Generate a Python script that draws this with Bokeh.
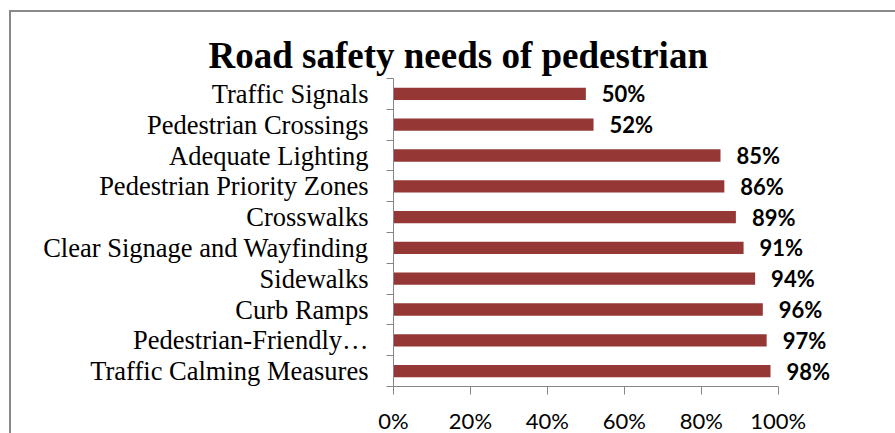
from bokeh.plotting import figure
from bokeh.models import Range1d, FixedTicker, NumeralTickFormatter, ColumnDataSource
from bokeh.core.properties import value
from bokeh.embed import file_html
from bokeh.resources import INLINE

# ---- data (top to bottom as in the chart) ----
categories = [
    "Traffic Signals",
    "Pedestrian Crossings",
    "Adequate Lighting",
    "Pedestrian Priority Zones",
    "Crosswalks",
    "Clear Signage and Wayfinding",
    "Sidewalks",
    "Curb Ramps",
    "Pedestrian-Friendly\u2026",
    "Traffic Calming Measures",
]
values = [0.50, 0.52, 0.85, 0.86, 0.89, 0.91, 0.94, 0.96, 0.97, 0.98]
value_labels = ["50%", "52%", "85%", "86%", "89%", "91%", "94%", "96%", "97%", "98%"]
x_ticks = [0.0, 0.2, 0.4, 0.6, 0.8, 1.0]
title_text = "Road safety needs of pedestrian"

n = len(categories)
ypos = [n - 1 - i for i in range(n)]          # top category highest
src = ColumnDataSource(dict(y=ypos, v=values, lbl=value_labels, cat=categories))

AXIS_GREY = "#868686"
BAR = "#953735"

FRAME_W = 492
FRAME_H = 308
PX_PER_UNIT = 384.7
x_end = FRAME_W / PX_PER_UNIT

p = figure(
    frame_width=FRAME_W, frame_height=FRAME_H,
    x_range=Range1d(0, x_end), y_range=Range1d(-0.5, n - 0.5),
    output_backend="svg", toolbar_location=None,
    min_border_left=382, min_border_right=10,
    min_border_top=66, min_border_bottom=47,
    title=title_text,
)
p.styles = {
    "border-top": "2px solid #898989",
    "border-left": "2px solid #898989",
    "margin-left": "9px",
    "margin-top": "10px",
}
p.background_fill_color = "white"
p.border_fill_color = "white"
p.outline_line_color = None
p.xgrid.visible = False
p.ygrid.visible = False

p.title.text_font = "Liberation Serif"
p.title.text_font_size = "37px"
p.title.text_font_style = "bold"
p.title.text_color = "black"
p.title.align = "left"
p.title.offset = -185
p.title.standoff = 5

p.hbar(y="y", right="v", left=0, height=0.4, source=src,
       fill_color=BAR, line_color=None)

p.text(x="v", y="y", text="lbl", source=src, x_offset=16,
       text_baseline="middle", text_align="left",
       text_font=value("Lato"), text_font_style="bold",
       text_font_size="22px", text_color="black")

# y axis: labels at centers, ticks at category boundaries
bounds = [y - 0.5 for y in range(n)] + [n - 0.5]
p.yaxis.ticker = FixedTicker(ticks=list(range(n)), minor_ticks=bounds)
p.yaxis.major_label_overrides = {y: c for y, c in zip(ypos, categories)}
p.yaxis.major_tick_in = 0
p.yaxis.major_tick_out = 0
p.yaxis.major_tick_line_color = None
p.yaxis.minor_tick_in = 0
p.yaxis.minor_tick_out = 7
p.yaxis.minor_tick_line_color = AXIS_GREY
p.yaxis.axis_line_color = AXIS_GREY
p.yaxis.major_label_standoff = 18
p.yaxis.major_label_text_font = "Liberation Serif"
p.yaxis.major_label_text_font_size = "26.5px"
p.yaxis.major_label_text_color = "black"

# x axis
p.xaxis.ticker = FixedTicker(ticks=x_ticks, minor_ticks=[])
p.xaxis.formatter = NumeralTickFormatter(format="0%")
p.xaxis.bounds = (0, 1)
p.xaxis.axis_line_color = AXIS_GREY
p.xaxis.major_tick_line_color = AXIS_GREY
p.xaxis.major_tick_in = 0
p.xaxis.major_tick_out = 8
p.xaxis.minor_tick_line_color = None
p.xaxis.major_label_standoff = 12
p.xaxis.major_label_text_font = "Lato"
p.xaxis.major_label_text_font_size = "22px"
p.xaxis.major_label_text_color = "black"

open("out.html", "w").write(file_html(p, INLINE))
